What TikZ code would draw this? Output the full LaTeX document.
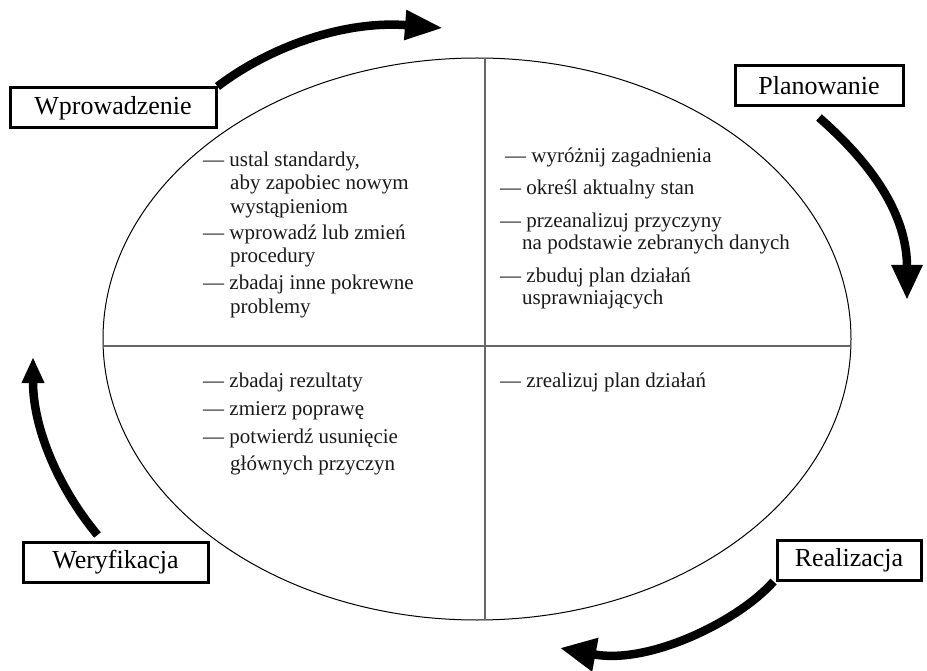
\documentclass[tikz,border=0pt]{standalone}
\usepackage{fontspec}
\setmainfont{Liberation Serif}
\usetikzlibrary{arrows.meta}
\begin{document}
\begin{tikzpicture}[x=1pt,y=-1pt,
  txt/.style={anchor=base west, inner sep=0pt, font=\fontsize{21}{23}\selectfont, text=black!90},
  stage/.style={draw, line width=3pt, minimum height=40pt, inner sep=0pt, font=\fontsize{26}{30}\selectfont},
  divline/.style={draw=black!60, line width=1.3pt},
  cycarrow/.style={line width=8.5pt}
]
\useasboundingbox (0,0) rectangle (927,671);

% ellipse and quadrants
\draw[line width=1pt] (477,339) ellipse [x radius=374, y radius=281];
\draw[divline] (104,346) -- (850,346);
\draw[divline] (485,58.2) -- (485,619.8);

% stage boxes
\node[stage, minimum width=206pt] (wpr) at (113,108) {Wprowadzenie};
\node[stage, minimum width=168pt] (plan) at (819,86) {Planowanie};
\node[stage, minimum width=185pt] (wer) at (115.5,562.5) {Weryfikacja};
\node[stage, minimum width=144pt] (real) at (849,560) {Realizacja};

% arrow tips
\coordinate (t1) at (443,28);
\coordinate (t2) at (907,300);
\coordinate (t3) at (560,648);
\coordinate (t4) at (33,357);

\draw[cycarrow, -{Triangle[length=38pt,width=28pt]}] (wpr.north east) .. controls (265,50) and (340,20) .. (t1);
\draw[cycarrow, -{Triangle[length=35pt,width=29pt]}] ([yshift=-10pt]plan.south) .. controls (850,145) and (907,200) .. (t2);
\draw[cycarrow, -{Triangle[length=36pt,width=32pt]}] ([xshift=-2pt]real.south west) .. controls (740,620) and (650,665) .. (t3);
\draw[cycarrow, -{Triangle[length=26pt,width=21pt]}] ([xshift=-18pt,yshift=6pt]wer.north) .. controls (60,490) and (33,430) .. (t4);

% top-left quadrant
\node[txt] (a1) at (203,167) {— ustal standardy,};
\node[txt] (a2) at (230,190) {aby zapobiec nowym};
\node[txt] (a3) at (230,214) {wystąpieniom};
\node[txt] (a4) at (203,240) {— wprowadź lub zmień};
\node[txt] (a5) at (230,263) {procedury};
\node[txt] (a6) at (203,290) {— zbadaj inne pokrewne};
\node[txt] (a7) at (230,313) {problemy};

% top-right quadrant
\node[txt] (b1) at (505,163) {— wyróżnij zagadnienia};
\node[txt] (b2) at (500,195) {— określ aktualny stan};
\node[txt] (b3) at (500,228) {— przeanalizuj przyczyny};
\node[txt] (b4) at (522,250) {na podstawie zebranych danych};
\node[txt] (b5) at (500,283) {— zbuduj plan działań};
\node[txt] (b6) at (522,305) {usprawniających};

% bottom-left quadrant
\node[txt] (c1) at (203,387) {— zbadaj rezultaty};
\node[txt] (c2) at (203,415) {— zmierz poprawę};
\node[txt] (c3) at (203,443) {— potwierdź usunięcie};
\node[txt] (c4) at (230,470) {głównych przyczyn};

% bottom-right quadrant
\node[txt] (d1) at (500,387) {— zrealizuj plan działań};
\end{tikzpicture}
\end{document}
